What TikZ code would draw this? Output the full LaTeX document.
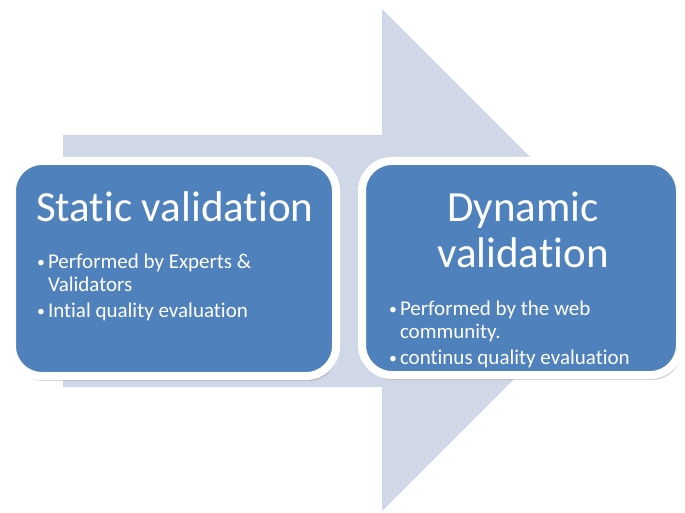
\documentclass[tikz,border=0pt]{standalone}
\usepackage{fontspec}
\setmainfont{Carlito}[Ligatures=CommonOff]
\usetikzlibrary{shadows}
\definecolor{stageblue}{RGB}{79,129,189}
\definecolor{flowgrey}{RGB}{208,216,231}
\def\point#1{\par\noindent\hangindent=11pt\makebox[11pt][l]{\raisebox{1pt}{\scalebox{.75}{\textbullet}}}#1}

\begin{document}
\begin{tikzpicture}[x=1pt,y=-1pt,inner sep=0pt,outer sep=0pt,
					font=\fontsize{21}{23}\selectfont]
					\tikzstyle{stage}=[draw=white,line width=8pt,fill=stageblue,rounded corners=30pt,
					anchor=north west,drop shadow={shadow xshift=2pt,shadow yshift=-5pt,opacity=.35}]
					\tikzstyle{heading}=[text=white,font=\fontsize{43}{46}\selectfont,anchor=base]
					\tikzstyle{points}=[text=white,anchor=base west]
					
					\useasboundingbox (0,0) rectangle (685,513);
					
					\fill[flowgrey] (63,135) -- (382,135) -- (382,9) -- (633,260)
					-- (382,511) -- (382,387) -- (63,387) -- cycle;
					
					\node[stage,minimum width=324pt,minimum height=215pt] (static)  at (12,161)  {};
					\node[stage,minimum width=318pt,minimum height=214pt] (dynamic) at (362,161) {};
					
					\node[heading,anchor=base west] (statictitle) at (36,222) {Static validation};
					\node[points] (staticpoints) at (37,268)
					{\parbox[t]{280pt}{\raggedright\parskip=3pt
					\point{Performed by Experts \&\newline Validators}
					\point{Intial quality evaluation}}};
					
					\node[heading] (dynamictitle) at (523,222)
					{\parbox[t]{300pt}{\centering Dynamic\\validation}};
					\node[points] (dynamicpoints) at (389,315)
					{\parbox[t]{282pt}{\raggedright\parskip=3pt
					\point{Performed by the web\newline community.}
					\point{continus quality evaluation}}};
\end{tikzpicture}
\end{document}
